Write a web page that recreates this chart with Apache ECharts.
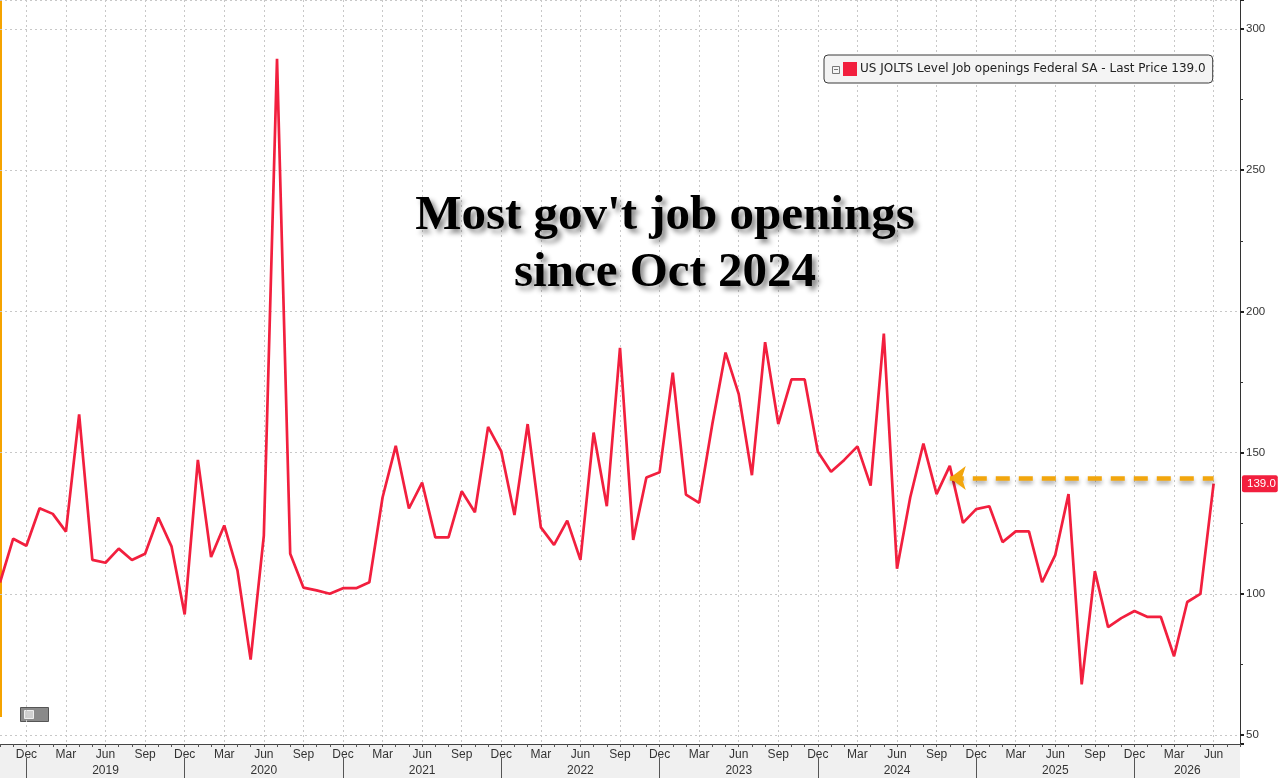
<!DOCTYPE html>
<html>
<head>
<meta charset="utf-8">
<script src="https://cdn.jsdelivr.net/npm/echarts@6/dist/echarts.min.js"></script>
<style>
    html, body {margin: 0; padding: 0; background: #fff;}
    #chartBox {width: 1280px; height: 778px;}
</style>
</head>
<body>
<div id="chartBox"></div>
<script>
var monthNames = ['Jan', 'Feb', 'Mar', 'Apr', 'May', 'Jun', 'Jul', 'Aug', 'Sep', 'Oct', 'Nov', 'Dec'];
var startYear = 2018;
var startMonth = 9; // Oct 2018
var tickMonths = ['Dec', 'Mar', 'Jun', 'Sep'];
var seriesName = 'US JOLTS Level Job openings Federal SA - Last Price 139.0';
var lastLabel = '139.0';
// monthly values, Oct 2018 .. Jun 2026 (thousands)
var values = [
    104, 119.5, 117, 130.3, 128.3, 122, 163.5, 112, 111, 116, 112, 114.2,
    127, 116.8, 92.7, 147.4, 113, 124.2, 108.3, 76.7, 120.6, 289.4, 114.2, 102.2,
    101.2, 100, 102, 102, 104.1, 134.1, 152.4, 130.2, 139.4, 120, 120, 136.3,
    128.9, 159.1, 150.4, 127.9, 160.1, 123.5, 117.3, 125.9, 112, 157.1, 131, 187.1,
    119.1, 141.2, 143, 178.3, 135.1, 132.2, 160.1, 185.4, 170.7, 142, 189.1, 160.1,
    175.9, 175.9, 150.3, 143.2, 147.4, 152.2, 138.3, 192.1, 108.9, 134.1, 153.2, 135.3,
    145.3, 125.1, 130, 131, 118.3, 122.1, 122.1, 104.1, 113.8, 135.3, 67.9, 108,
    88.2, 91.4, 93.9, 91.8, 91.8, 77.9, 97.1, 100, 139
];
var arrowFrom = 72; // Oct 2024
var arrowLevel = 141;

// categories: one per month plus two empty slots of room before the axis
var categories = [];
for (var i = 0; i < values.length + 2; i++) {
    if (i < values.length) {
        var m = (startMonth + i) % 12;
        var y = startYear + Math.floor((startMonth + i) / 12);
        categories.push(monthNames[m] + ' ' + y);
    } else {
        categories.push('');
    }
}
function monthOf(v) { return v ? v.split(' ')[0] : ''; }
function yearOf(v) { return v ? v.split(' ')[1] : ''; }

// where the year labels go: mid of each Dec..Dec span
var decIdx = [];
for (var k = 0; k < categories.length; k++) {
    if (monthOf(categories[k]) == 'Dec') decIdx.push(k);
}
var yearLabelAt = {};
for (var d = 0; d < decIdx.length; d++) {
    var a = decIdx[d];
    var b = d + 1 < decIdx.length ? decIdx[d + 1] : categories.length - 1;
    var mid = Math.round((a + b) / 2);
    yearLabelAt[mid] = String(parseInt(yearOf(categories[a])) + 1);
}

var myChart = echarts.init(document.getElementById('chartBox'));
var option = {
    animation: false,
    grid: {left: 0, right: 40, top: -2, bottom: 34},
    legend: {
        left: 824,
        top: 55,
        data: [seriesName],
        icon: 'rect',
        itemWidth: 14,
        itemHeight: 14,
        itemGap: 4,
        padding: [7, 7, 7, 19],
        backgroundColor: '#f4f4f4',
        borderColor: '#3a3a3a',
        borderWidth: 1,
        borderRadius: 4,
        textStyle: {fontFamily: 'DejaVu Sans', fontSize: 12, color: '#222', padding: [0, 0, 0, -2]}
    },
    xAxis: [
        {
            type: 'category',
            data: categories,
            boundaryGap: false,
            axisLine: {lineStyle: {color: '#444', width: 1}},
            axisTick: {interval: 0, length: 3, lineStyle: {color: '#555'}},
            axisLabel: {
                interval: function (idx, v) { return tickMonths.indexOf(monthOf(v)) >= 0; },
                formatter: function (v) { return monthOf(v); },
                margin: 5,
                fontFamily: 'Liberation Sans',
                fontSize: 12,
                color: '#333'
            },
            splitLine: {
                show: true,
                interval: function (idx, v) { return tickMonths.indexOf(monthOf(v)) >= 0; },
                lineStyle: {color: '#c8c8c8', type: [2, 3], width: 1}
            }
        },
        {
            type: 'category',
            data: categories,
            boundaryGap: false,
            position: 'bottom',
            offset: 14,
            axisLine: {show: false},
            axisTick: {
                show: true,
                interval: function (idx, v) { return monthOf(v) == 'Dec'; },
                length: 22,
                lineStyle: {color: '#555'}
            },
            axisLabel: {
                interval: function (idx) { return yearLabelAt[idx] !== undefined; },
                formatter: function (v, idx) { return yearLabelAt[idx] || ''; },
                margin: 7,
                fontFamily: 'Liberation Sans',
                fontSize: 12,
                color: '#333'
            },
            splitLine: {show: false}
        }
    ],
    yAxis: {
        type: 'value',
        position: 'right',
        min: 46.82,
        max: 310.24,
        splitNumber: 5,
        axisLine: {show: true, lineStyle: {color: '#333'}},
        axisTick: {show: true, length: 4, lineStyle: {color: '#222', width: 2}},
        minorTick: {show: true, splitNumber: 2, length: 3, lineStyle: {color: '#333'}},
        axisLabel: {
            showMinLabel: false,
            showMaxLabel: false,
            margin: 6,
            fontFamily: 'Liberation Sans',
            fontSize: 11.5,
            color: '#333'
        },
        splitLine: {lineStyle: {color: '#c8c8c8', type: [2, 3], width: 1}}
    },
    series: [
        {
            name: seriesName,
            type: 'line',
            data: values,
            symbol: 'none',
            color: '#f21f3e',
            lineStyle: {width: 2.7, color: '#f21f3e'},
            markLine: {
                silent: true,
                symbol: ['arrow', 'none'],
                symbolSize: [18, 16],
                data: [
                    [
                        {coord: [arrowFrom, arrowLevel]},
                        {coord: [values.length - 1, arrowLevel]}
                    ],
                    {
                        yAxis: values[values.length - 1],
                        symbol: 'none',
                        lineStyle: {width: 0, color: 'rgba(0,0,0,0)', shadowBlur: 0},
                        label: {
                            show: true,
                            position: 'end',
                            distance: 2,
                            formatter: lastLabel,
                            backgroundColor: '#f21f3e',
                            color: '#fff',
                            fontFamily: 'Liberation Sans',
                            fontSize: 11.5,
                            padding: [3, 2, 2, 5],
                            borderRadius: 2
                        }
                    }
                ],
                label: {show: false},
                lineStyle: {
                    color: '#f2a60d',
                    width: 4.5,
                    type: [14, 9],
                    shadowBlur: 4,
                    shadowColor: 'rgba(0,0,0,0.35)',
                    shadowOffsetY: 3
                }
            }
        }
    ],
    graphic: [
        {type: 'rect', left: 0, top: 744, z: -1, shape: {width: 1240, height: 34}, style: {fill: '#f0f0f0'}},
        {type: 'rect', left: 0, top: 0, shape: {width: 2, height: 717}, style: {fill: '#f5a300'}},
        {type: 'rect', left: 20, top: 707, shape: {width: 28, height: 14}, style: {fill: '#8a8a8a', stroke: '#555', lineWidth: 1}},
        {type: 'rect', left: 24, top: 710, shape: {width: 9, height: 8}, style: {fill: '#cfcfcf', stroke: '#eee', lineWidth: 1}},
        {type: 'rect', left: 832, top: 66, z: 100, shape: {width: 7, height: 7}, style: {fill: '#f4f4f4', stroke: '#777', lineWidth: 1}},
        {type: 'rect', left: 834, top: 69, z: 101, shape: {width: 4, height: 1}, style: {fill: '#777'}},
        {
            type: 'text',
            x: 665,
            y: 188,
            z: 10,
            style: {
                text: "Most gov't job openings\nsince Oct 2024",
                textAlign: 'center',
                fontFamily: 'Liberation Serif',
                fontWeight: 'bold',
                fontSize: 49,
                lineHeight: 57,
                fill: '#000',
                textShadowColor: 'rgba(0,0,0,0.45)',
                textShadowBlur: 5,
                textShadowOffsetX: 4,
                textShadowOffsetY: 4
            }
        }
    ]
};
myChart.setOption(option);
</script>
</body>
</html>
